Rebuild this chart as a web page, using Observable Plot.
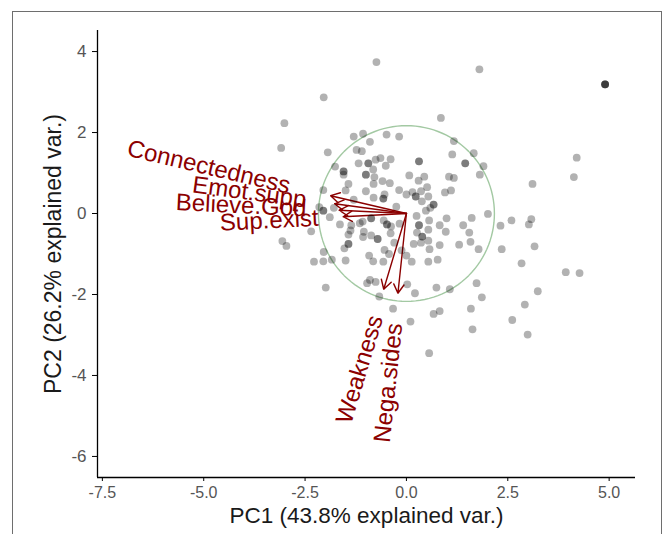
<!DOCTYPE html>
<html><head><meta charset="utf-8">
<script src="https://cdn.jsdelivr.net/npm/d3@7"></script>
<script src="https://cdn.jsdelivr.net/npm/@observablehq/plot@0.6"></script>
<style>
html,body{margin:0;padding:0;background:#fff;}
#wrap{position:relative;width:665px;height:534px;overflow:hidden;}
#frame{position:absolute;left:12px;top:11px;width:650px;height:600px;border:1.5px solid #6e6e6e;box-sizing:border-box;}
#chart{position:absolute;left:0;top:0;}
</style></head><body>
<div id="wrap"><div id="frame"></div><div id="chart"></div></div>
<script>
// Observation scores (PC1, PC2); repeated entries are overlapping observations
const pc1 = [
-1.30,-1.07,-0.90,-0.49,-0.18,-1.94,-1.23,-1.10,-1.76,-1.55,-1.55,-1.55,-1.18,-0.94,-0.94,-0.76,-0.64,-0.39,-0.51,-1.00,-1.00,-0.82,-0.79,-1.43,-1.50,-0.81,-0.59,-0.41,-1.00,-0.54,-0.57,-0.57,-0.81,-0.18,-2.05,-0.25,-1.79,-1.30,-2.05,-2.05,
1.17,1.13,1.66,0.31,0.31,1.45,1.45,1.81,0.07,0.44,0.30,1.05,1.17,0.51,0.36,0.15,0.00,0.54,0.95,1.10,0.23,0.23,0.38,0.67,0.67,0.59,0.48,1.90,
-1.89,-1.64,-1.36,-1.15,-1.08,-0.87,-0.87,-0.56,-0.48,-0.48,-0.38,-0.17,-1.38,-1.43,-1.05,-1.07,-0.87,-0.71,-0.71,-0.39,-0.30,-1.43,-1.43,-1.53,-0.54,-0.43,-2.04,-0.92,-0.82,-2.05,-1.84,-1.50,-0.57,-0.12,-1.99,-0.97,-0.90,-0.76,-0.67,
0.25,0.99,0.56,0.31,0.31,0.82,0.97,1.40,1.61,1.55,0.54,0.26,0.39,0.39,0.36,0.18,0.54,0.57,0.82,1.30,1.58,1.78,0.00,0.13,0.54,0.77,0.02,0.21,0.74,1.07,1.73,1.86,
-0.74,1.80,4.90,4.90,4.90,4.90,-2.04,-3.01,0.85,-3.09,4.20,4.13,3.11,-2.15,2.01,2.59,3.08,3.02,2.32,-2.35,-3.06,-2.96,2.35,3.16,-2.28,2.84,3.93,4.27,3.24,2.92,-0.33,0.67,0.82,1.59,0.10,2.61,1.63,2.99,0.56
];
const pc2 = [
1.90,1.97,1.77,1.95,1.90,1.51,1.57,1.54,1.16,1.04,1.04,0.96,1.24,1.24,1.24,1.33,1.37,1.34,1.18,0.96,0.96,1.09,0.90,0.73,0.57,0.73,0.80,0.75,0.55,0.47,0.37,0.37,0.39,0.58,0.58,0.17,0.14,0.34,0.07,0.07,
1.79,1.46,1.49,1.29,1.29,1.24,1.24,0.96,0.94,0.91,0.81,0.91,0.88,0.65,0.55,0.53,0.47,0.42,0.52,0.57,0.42,0.42,0.30,0.22,0.22,0.14,0.07,1.17,
-0.09,-0.27,-0.29,-0.24,-0.20,-0.12,-0.12,-0.17,-0.27,-0.27,-0.32,-0.25,-0.42,-0.52,-0.45,-0.58,-0.54,-0.63,-0.63,-0.49,-0.72,-0.75,-0.75,-0.86,-0.90,-1.00,-0.95,-1.04,-1.18,-1.18,-1.14,-1.16,-1.19,-0.91,-1.83,-1.72,-1.64,-1.69,-2.05,
-0.06,-0.12,-0.17,-0.29,-0.29,-0.29,-0.45,-0.29,-0.11,-0.47,-0.40,-0.47,-0.57,-0.57,-0.72,-0.75,-0.67,-0.88,-0.78,-0.77,-0.70,-0.88,-1.04,-1.19,-1.19,-1.14,-1.75,-1.97,-1.83,-1.87,-1.72,-2.07,
3.74,3.56,3.19,3.19,3.19,3.19,2.87,2.23,2.36,1.62,1.38,0.90,0.73,0.16,-0.01,-0.17,-0.14,-0.27,-0.30,-0.44,-0.68,-0.80,-0.88,-0.81,-1.19,-1.23,-1.45,-1.47,-1.92,-2.25,-2.35,-2.48,-2.41,-2.35,-2.67,-2.63,-2.86,-2.99,-3.45
];

// Variable loadings (arrow tips)
const varNames = ["Connectedness", "Emot.supp", "Believe.God", "Sup.exist", "Weakness", "Nega.sides"];
const varX = [-1.87, -1.77, -1.66, -1.56, -0.56, -0.21];
const varY = [0.44, 0.24, 0.08, -0.08, -1.87, -1.97];

const xTicks = [-7.5, -5, -2.5, 0, 2.5, 5];
const yTicks = [-6, -4, -2, 0, 2, 4];
const xTitle = "PC1 (43.8% explained var.)";
const yTitle = "PC2 (26.2% explained var.)";
const circleR = 2.17;

const xDomain = [-7.62, 5.65];
const yDomain = [-6.52, 4.52];

const points = pc1.map((x, i) => ({x, y: pc2[i]}));
const vars = varNames.map((name, i) => ({
  name, x0: 0, y0: 0, x: varX[i], y: varY[i],
  angle: -Math.atan(varY[i] / varX[i]) * 180 / Math.PI
}));
const circle = d3.range(0, 121).map(i => {
  const t = 2 * Math.PI * i / 120;
  return {x: circleR * Math.cos(t), y: circleR * Math.sin(t)};
});

const font = "'Liberation Sans', Arial, Helvetica, sans-serif";
const red = "#8B0000";

const plot = Plot.plot({
  width: 665, height: 534,
  marginLeft: 97, marginRight: 30, marginTop: 30, marginBottom: 57,
  x: {domain: xDomain},
  y: {domain: yDomain},
  style: {fontFamily: font, background: "transparent", overflow: "visible"},
  marks: [
    Plot.line(circle, {x: "x", y: "y", stroke: "#a3c9a3", strokeWidth: 1.4}),
    Plot.arrow(vars, {x1: "x0", y1: "y0", x2: "x", y2: "y", stroke: red, strokeWidth: 1.4, headLength: 11, headAngle: 60}),
    Plot.dot(points, {x: "x", y: "y", r: 3.9, fill: "#000", fillOpacity: 0.3}),
    Plot.text(vars, {x: "x", y: "y", text: "name", rotate: "angle", textAnchor: "end", fill: red, fontSize: 24, fontFamily: font}),
    Plot.ruleY([yDomain[0]], {stroke: "#000", strokeWidth: 1.3}),
    Plot.ruleX([xDomain[0]], {stroke: "#000", strokeWidth: 1.3}),
    Plot.axisX(xTicks, {tickFormat: d => d.toFixed(1), tickSize: 4, tickPadding: 5, fontSize: 16, stroke: "#000", fill: "#555", label: null}),
    Plot.axisY(yTicks, {tickFormat: d => String(d), tickSize: 5, tickPadding: 6, fontSize: 17, stroke: "#000", fill: "#555", label: null}),
    Plot.text([xTitle], {frameAnchor: "bottom", textAnchor: "middle", dy: 45, fontSize: 22.5, fill: "#1a1a1a", fontFamily: font}),
    Plot.text([yTitle], {frameAnchor: "left", textAnchor: "middle", rotate: -90, dx: -44, fontSize: 23, fill: "#1a1a1a", fontFamily: font})
  ]
});
document.getElementById("chart").appendChild(plot);

// ggbiplot-style hjust = 1.25 for variable labels
plot.querySelectorAll("text").forEach(t => {
  if (varNames.includes(t.textContent)) {
    const len = t.getComputedTextLength();
    const tr = t.getAttribute("transform") || "";
    t.setAttribute("transform", tr + ` translate(${-0.25 * len},0)`);
  }
});
</script>
</body></html>
